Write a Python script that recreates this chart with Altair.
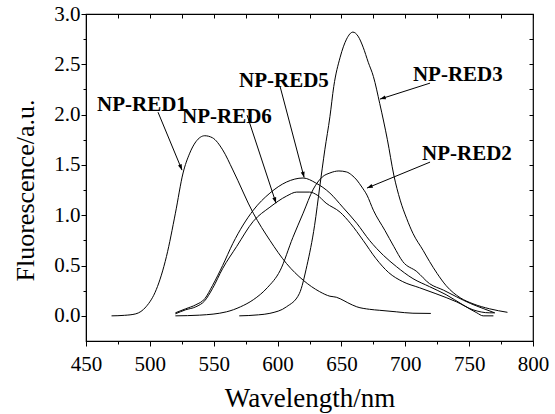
import math
import altair as alt
import pandas as pd

# ---- data ----
red1_x = [470, 480, 489, 497, 505, 513, 520, 526, 531, 536, 543, 549, 557, 565, 581, 594, 607, 620, 633, 641, 646, 649, 655, 662, 672, 680, 693, 706, 720]
red1_y = [0.0, 0.005, 0.02, 0.09, 0.26, 0.59, 1.02, 1.42, 1.61, 1.73, 1.79, 1.77, 1.65, 1.45, 1.02, 0.75, 0.52, 0.355, 0.24, 0.195, 0.185, 0.17, 0.13, 0.09, 0.065, 0.055, 0.04, 0.026, 0.024]

red2_x = [520, 539, 560, 571, 581, 592, 602, 612, 620, 628, 635, 641, 648, 654, 658, 662, 666, 670, 675, 684, 691, 698, 709, 719, 730, 740, 751, 761, 770]
red2_y = [0.0, 0.007, 0.04, 0.09, 0.16, 0.28, 0.45, 0.78, 1.02, 1.26, 1.38, 1.42, 1.44, 1.43, 1.40, 1.35, 1.28, 1.2, 1.05, 0.85, 0.69, 0.54, 0.44, 0.32, 0.255, 0.19, 0.123, 0.073, 0.03]

red3_x = [570, 585, 594, 607, 617, 623, 629, 633, 637, 641, 644, 649, 654, 659, 663, 667, 671, 675, 680, 686, 691, 696, 701, 706, 714, 719, 725, 732, 743, 753, 766, 780]
red3_y = [0.0, 0.01, 0.025, 0.09, 0.22, 0.5, 0.9, 1.28, 1.65, 1.98, 2.28, 2.57, 2.75, 2.82, 2.78, 2.67, 2.52, 2.38, 2.11, 1.75, 1.4, 1.15, 0.97, 0.82, 0.65, 0.54, 0.42, 0.3, 0.18, 0.12, 0.07, 0.035]

red5_x = [520, 528, 536, 543, 549, 557, 565, 581, 594, 607, 620, 630, 641, 651, 662, 672, 683, 693, 706, 719, 732, 745, 756, 761, 769]
red5_y = [0.03, 0.07, 0.11, 0.17, 0.30, 0.50, 0.72, 1.05, 1.22, 1.33, 1.37, 1.32, 1.22, 1.08, 0.92, 0.75, 0.60, 0.49, 0.37, 0.29, 0.21, 0.11, 0.03, 0.0, 0.0]

red6_x = [520, 528, 536, 543, 549, 557, 568, 581, 594, 607, 615, 625, 631, 638, 649, 657, 667, 677, 687, 698, 711, 724, 740, 753, 766, 770]
red6_y = [0.02, 0.06, 0.09, 0.15, 0.27, 0.47, 0.69, 0.94, 1.08, 1.19, 1.23, 1.23, 1.20, 1.12, 1.03, 0.92, 0.75, 0.57, 0.43, 0.34, 0.28, 0.22, 0.14, 0.06, 0.03, 0.03]

# annotation labels (left edge / vertical centre) and arrows (from -> to)
label_text = ["NP-RED1", "NP-RED6", "NP-RED5", "NP-RED3", "NP-RED2"]
label_x = [458.6, 525.2, 569.8, 706.0, 713.1]
label_y = [2.094, 1.975, 2.333, 2.393, 1.607]
arrow_x1 = [506.4, 576.1, 601.9, 719.4, 719.4]
arrow_y1 = [2.024, 1.995, 2.283, 2.313, 1.528]
arrow_x2 = [525.2, 598.8, 620.8, 680.2, 670.0]
arrow_y2 = [1.448, 1.120, 1.375, 2.154, 1.270]

x_major = [450, 500, 550, 600, 650, 700, 750, 800]
x_minor = [475, 525, 575, 625, 675, 725, 775]
y_major = [0.0, 0.5, 1.0, 1.5, 2.0, 2.5, 3.0]
y_minor = [0.25, 0.75, 1.25, 1.75, 2.25, 2.75]

X_DOMAIN = [450, 800]
Y_DOMAIN = [-0.25, 3.0]
W, H = 447, 327
FONT = "Liberation Serif"

rows = []
for name, xs, ys in [("NP-RED1", red1_x, red1_y), ("NP-RED2", red2_x, red2_y),
                     ("NP-RED3", red3_x, red3_y), ("NP-RED5", red5_x, red5_y),
                     ("NP-RED6", red6_x, red6_y)]:
    for i, (a, b) in enumerate(zip(xs, ys)):
        rows.append({"series": name, "wl": a, "f": b, "i": i})
curves = pd.DataFrame(rows)

labels = pd.DataFrame({"t": label_text, "x": label_x, "y": label_y})

# arrow head direction computed through the same linear scales
angles = []
for a1, b1, a2, b2 in zip(arrow_x1, arrow_y1, arrow_x2, arrow_y2):
    dx = (a2 - a1) / (X_DOMAIN[1] - X_DOMAIN[0]) * W
    dy = -(b2 - b1) / (Y_DOMAIN[1] - Y_DOMAIN[0]) * H
    angles.append(math.degrees(math.atan2(dx, -dy)) % 360)
arrows = pd.DataFrame({"x1": arrow_x1, "y1": arrow_y1, "x2": arrow_x2, "y2": arrow_y2, "ang": angles})

xs = alt.Scale(domain=X_DOMAIN, nice=False, zero=False)
ys = alt.Scale(domain=Y_DOMAIN, nice=False, zero=False)

lines = alt.Chart(curves).mark_line(color="black", strokeWidth=1, interpolate="monotone").encode(
    x=alt.X("wl:Q", scale=xs, axis=alt.Axis(
        values=x_major, title="Wavelength/nm", format="d", orient="bottom",
        labelFont=FONT, labelFontSize=21, labelColor="black", labelPadding=7,
        labelFlush=False, labelOverlap=False,
        titleFont=FONT, titleFontSize=27, titleFontWeight="normal", titleColor="black",
        titleBaseline="alphabetic", titleY=65,
        tickSize=5, tickColor="black", domainColor="black", grid=False)),
    y=alt.Y("f:Q", scale=ys, axis=alt.Axis(
        values=y_major, title="Fluorescence/a.u.", format=".1f", orient="left",
        labelFont=FONT, labelFontSize=21, labelColor="black", labelPadding=1,
        labelFlush=False, labelOverlap=False,
        titleFont=FONT, titleFontSize=26, titleFontWeight="normal", titleColor="black",
        titleBaseline="alphabetic", titleX=-53, titleY=176,
        tickSize=5, tickColor="black", domainColor="black", grid=False)),
    detail="series:N",
    order="i:Q",
)

rules = alt.Chart(arrows).mark_rule(color="black", strokeWidth=1).encode(
    x=alt.X("x1:Q", scale=xs, axis=alt.Axis(
        values=x_minor, labels=False, title=None, domain=False, orient="bottom",
        tickSize=3, tickColor="black", grid=False)),
    y=alt.Y("y1:Q", scale=ys, axis=alt.Axis(
        values=y_minor, labels=False, title=None, domain=False, orient="left",
        tickSize=3, tickColor="black", grid=False)),
    x2="x2:Q",
    y2="y2:Q",
)

heads = alt.Chart(arrows).mark_point(
    shape="M0,0L-0.38,1.1L0.38,1.1Z", filled=True, color="black", opacity=1, size=110
).encode(
    x=alt.X("x2:Q", scale=xs, axis=alt.Axis(
        values=x_major + x_minor, labels=False, title=None, domain=False, orient="top",
        tickSize=4, offset=-4, tickColor="black", grid=False)),
    y=alt.Y("y2:Q", scale=ys, axis=alt.Axis(
        values=y_major + y_minor, labels=False, title=None, domain=False, orient="right",
        tickSize=4, offset=-4, tickColor="black", grid=False)),
    angle=alt.Angle("ang:Q", scale=None),
)

texts = alt.Chart(labels).mark_text(
    font=FONT, fontSize=21, fontWeight="bold", color="black", align="left", baseline="middle"
).encode(
    x=alt.X("x:Q", scale=xs, axis=None),
    y=alt.Y("y:Q", scale=ys, axis=None),
    text="t:N",
)

chart = alt.layer(lines, rules, heads, texts).resolve_axis(
    x="independent", y="independent"
).properties(
    width=W, height=H,
    autosize=alt.AutoSizeParams(type="none"),
    padding={"left": 86, "top": 14, "right": 22, "bottom": 73},
    background="white",
).configure_view(stroke="black", strokeWidth=1.2)

chart.save("out.html", embed_options={"renderer": "svg", "actions": False})
